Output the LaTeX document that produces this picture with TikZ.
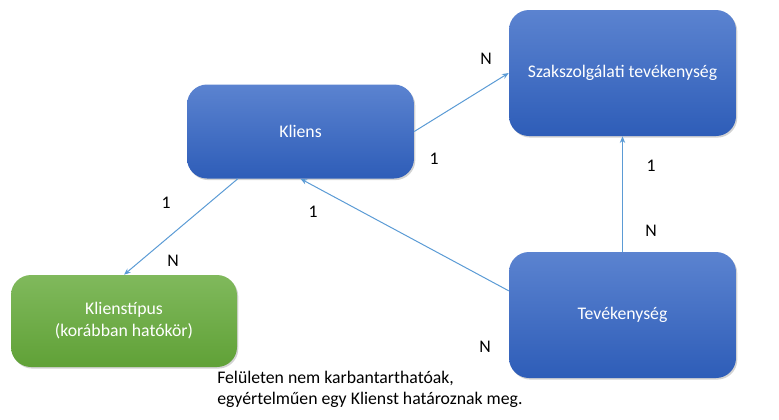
\documentclass[tikz,border=0pt]{standalone}
\usepackage{fontspec}
\setmainfont{Carlito}
\usepackage{tikz}
\usetikzlibrary{arrows.meta, positioning, shadows}
\usepackage{xcolor}
\definecolor{boxtop}{HTML}{5B83D0}
\definecolor{boxbot}{HTML}{2E5DB8}
\definecolor{greentop}{HTML}{80B95C}
\definecolor{greenbot}{HTML}{60A137}
\definecolor{linkblue}{HTML}{5B9BD5}
\tikzstyle{entity} = [
    rectangle, rounded corners=15pt, draw=none, top color=boxtop, bottom color=boxbot,
    text=white, align=center, font=\fontsize{13.3}{16.5}\selectfont,
    drop shadow={opacity=0.35, shadow xshift=1pt, shadow yshift=-1.2pt}
]
\tikzstyle{oldentity} = [entity, top color=greentop, bottom color=greenbot]
\tikzstyle{arrow} = [-{Stealth[length=5pt, width=4pt]}, line width=0.75pt, color=linkblue]
\tikzstyle{card} = [font=\fontsize{13.3}{15}\selectfont, text=black]

\begin{document}
\begin{tikzpicture}[x=0.75pt, y=-0.75pt]
    \useasboundingbox (0,0) rectangle (779,419);

    % Entities
    \node[entity, minimum width=170.25pt, minimum height=70.5pt] (kliens) at (300.5,131.5) {Kliens};
    \node[entity, minimum width=170.25pt, minimum height=94.5pt] (szak) at (622.5,73) {Szakszolgálati tevékenység};
    \node[oldentity, minimum width=169.5pt, minimum height=69pt] (tipus) at (124,321) {Klienstípus\\(korábban hatókör)};
    \node[entity, minimum width=170.25pt, minimum height=94.5pt] (tev) at (622.5,315) {Tevékenység};

    % Relations
    \draw[arrow] (kliens.east) -- (szak.west);
    \draw[arrow] (kliens.217) -- (tipus.north);
    \draw[arrow] (tev.168) -- (kliens.south);
    \draw[arrow] (tev.north) -- (szak.south);

    % Cardinalities
    \node[card] (c1) at (434,159) {1};
    \node[card] (c2) at (486,59) {N};
    \node[card] (c3) at (166,203) {1};
    \node[card] (c4) at (173,261) {N};
    \node[card] (c5) at (313,212) {1};
    \node[card] (c6) at (485,347) {N};
    \node[card] (c7) at (651,166) {1};
    \node[card] (c8) at (651,231) {N};

    % Note
    \node[anchor=north west, align=left, inner sep=0pt, font=\fontsize{13.3}{15.5}\selectfont] (note) at (217,371)
        {Felületen nem karbantarthatóak,\\egyértelműen egy Klienst határoznak meg.};

\end{tikzpicture}
\end{document}
